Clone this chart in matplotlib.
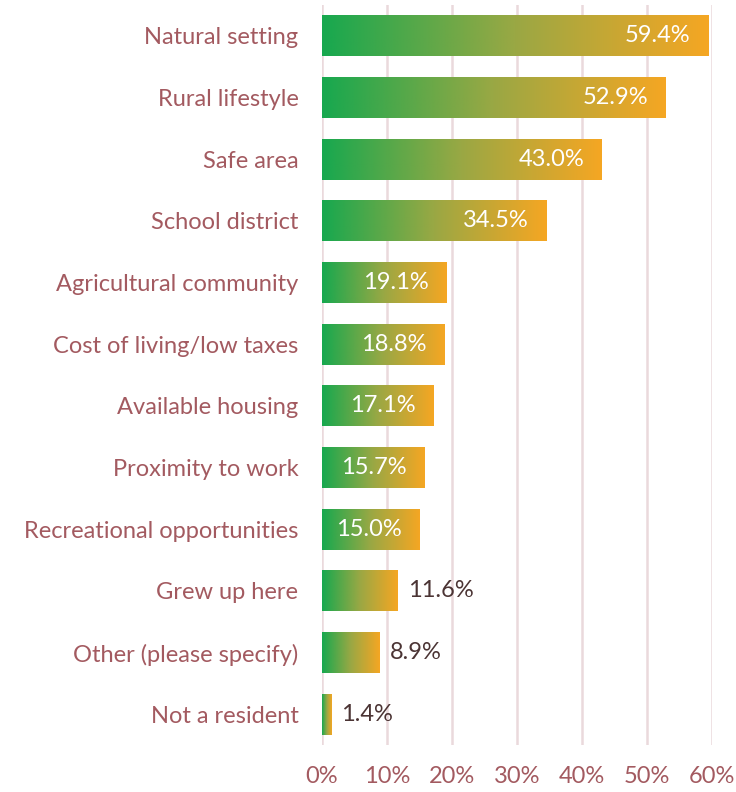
import numpy as np
import matplotlib
matplotlib.use("Agg")
import matplotlib.pyplot as plt
from matplotlib.colors import LinearSegmentedColormap

plt.rcParams["font.family"] = ["Lato", "DejaVu Sans"]

categories = ["Natural setting", "Rural lifestyle", "Safe area", "School district",
              "Agricultural community", "Cost of living/low taxes", "Available housing",
              "Proximity to work", "Recreational opportunities", "Grew up here",
              "Other (please specify)", "Not a resident"]
values = [59.4, 52.9, 43.0, 34.5, 19.1, 18.8, 17.1, 15.7, 15.0, 11.6, 8.9, 1.4]
xticks = [0, 10, 20, 30, 40, 50, 60]

GREEN, ORANGE = "#17a84f", "#f5a623"
LABEL_COL = "#a35a60"
DARK = "#4b3434"
GRID = "#ead9dc"
FS = 17

cmap = LinearSegmentedColormap.from_list("g2o", [GREEN, "#9aa844", ORANGE])
grad = np.linspace(0, 1, 256).reshape(1, -1)

fig = plt.figure(figsize=(7.36, 7.92), dpi=100)
ax = fig.add_axes([0.4375, 0.0593, 0.53, 0.9344])

n = len(categories)
ypos = np.arange(n)
bar_h = 0.66

for y, v in zip(ypos, values):
    ax.imshow(grad, cmap=cmap, aspect="auto", interpolation="bilinear",
              extent=(0, v, y + bar_h / 2, y - bar_h / 2), zorder=2)
    if v >= 15:
        ax.text(v - 2.7, y, f"{v:.1f}%", ha="right", va="center",
                color="white", fontsize=FS, zorder=3)
    else:
        ax.text(v + 1.6, y, f"{v:.1f}%", ha="left", va="center",
                color=DARK, fontsize=FS, zorder=3)

ax.set_xlim(0, 60)
ax.set_ylim(n - 0.5, -0.5)
ax.set_yticks(ypos)
ax.set_yticklabels(categories)
ax.set_xticks(xticks)
ax.set_xticklabels([f"{t}%" for t in xticks])
ax.tick_params(axis="both", length=0, labelsize=FS, labelcolor=LABEL_COL)
ax.tick_params(axis="y", pad=17)
ax.tick_params(axis="x", pad=15)
for s in ax.spines.values():
    s.set_visible(False)
ax.set_axisbelow(True)
ax.grid(axis="x", color=GRID, linewidth=1.8, zorder=0)
ax.grid(axis="y", visible=False)

fig.savefig("out.png", dpi=100)
